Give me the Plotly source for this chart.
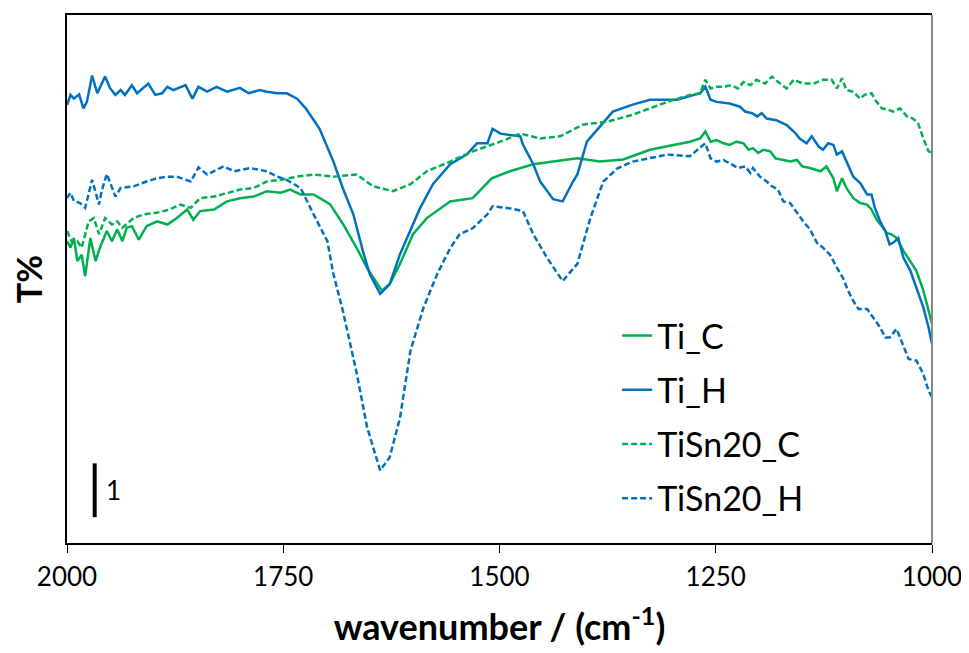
import plotly.graph_objects as go

# ---- data (wavenumber in cm^-1, transmittance in arbitrary offset units) ----
ti_h_wn = [2000, 1996, 1992, 1986, 1981, 1977, 1971, 1965, 1956, 1950, 1944, 1938, 1933, 1925, 1919, 1906,
           1898, 1890, 1884, 1877, 1863, 1855, 1848, 1838, 1827, 1815, 1800, 1790, 1777, 1769, 1757, 1746,
           1734, 1724, 1711, 1708, 1692, 1681, 1669, 1658, 1650, 1638, 1627, 1615, 1592, 1577, 1557, 1538,
           1526, 1514, 1508, 1499, 1476, 1473, 1461, 1453, 1438, 1427, 1415, 1410, 1399, 1384, 1369, 1346,
           1326, 1295, 1280, 1268, 1262, 1256, 1249, 1234, 1222, 1216, 1208, 1202, 1197, 1191, 1180, 1168,
           1164, 1158, 1153, 1145, 1139, 1131, 1126, 1120, 1114, 1110, 1104, 1099, 1091, 1083, 1075, 1070,
           1066, 1060, 1054, 1049, 1045, 1039, 1033, 1025, 1018, 1010, 1004, 1000]
ti_h_t = [8.14, 8.33, 8.26, 8.34, 8.08, 8.20, 8.69, 8.36, 8.67, 8.45, 8.33, 8.42, 8.33, 8.51, 8.36, 8.54,
          8.33, 8.36, 8.48, 8.42, 8.51, 8.26, 8.48, 8.39, 8.48, 8.39, 8.46, 8.36, 8.42, 8.39, 8.36, 8.36,
          8.26, 8.08, 7.77, 7.70, 7.09, 6.59, 6.11, 5.43, 5.00, 4.63, 4.81, 5.37, 6.22, 6.67, 7.04, 7.22,
          7.43, 7.43, 7.70, 7.61, 7.56, 7.41, 7.04, 6.72, 6.39, 6.35, 6.72, 6.85, 7.46, 7.74, 8.02, 8.15,
          8.24, 8.24, 8.30, 8.36, 8.48, 8.24, 8.20, 8.17, 8.11, 8.02, 7.99, 7.93, 7.99, 7.89, 7.86, 7.77,
          7.71, 7.62, 7.52, 7.43, 7.56, 7.37, 7.31, 7.43, 7.40, 7.22, 7.28, 7.09, 6.81, 6.69, 6.48, 6.48,
          6.23, 5.98, 5.80, 5.55, 5.58, 5.67, 5.30, 5.06, 4.75, 4.38, 4.01, 3.70]

ti_c_wn = [2000, 1996, 1992, 1988, 1983, 1979, 1973, 1967, 1962, 1954, 1948, 1942, 1936, 1931, 1925, 1917,
           1908, 1896, 1884, 1873, 1861, 1854, 1846, 1830, 1815, 1800, 1784, 1769, 1753, 1742, 1730, 1715,
           1696, 1681, 1665, 1653, 1636, 1627, 1615, 1600, 1584, 1557, 1531, 1509, 1488, 1461, 1438, 1410,
           1384, 1357, 1326, 1288, 1280, 1268, 1262, 1256, 1249, 1241, 1234, 1226, 1218, 1212, 1207, 1201,
           1195, 1187, 1181, 1172, 1164, 1156, 1150, 1141, 1129, 1122, 1114, 1110, 1104, 1099, 1091, 1083,
           1075, 1070, 1064, 1058, 1052, 1047, 1041, 1033, 1025, 1018, 1010, 1005, 1000]
ti_c_t = [5.61, 5.49, 5.67, 5.24, 5.36, 4.96, 5.67, 5.24, 5.49, 5.80, 5.61, 5.83, 5.61, 5.86, 5.89, 5.64,
          5.89, 5.98, 5.92, 6.04, 6.20, 6.01, 6.17, 6.20, 6.35, 6.41, 6.44, 6.54, 6.51, 6.57, 6.48, 6.48,
          6.30, 5.93, 5.48, 5.11, 4.69, 4.81, 5.19, 5.74, 6.04, 6.35, 6.41, 6.78, 6.91, 7.04, 7.09, 7.15,
          7.09, 7.13, 7.31, 7.43, 7.46, 7.52, 7.65, 7.46, 7.49, 7.43, 7.40, 7.46, 7.43, 7.31, 7.34, 7.25,
          7.31, 7.28, 7.15, 7.12, 7.09, 7.12, 7.00, 6.97, 6.91, 7.00, 6.78, 6.54, 6.78, 6.60, 6.41, 6.32,
          6.29, 6.20, 6.01, 5.89, 5.76, 5.74, 5.67, 5.43, 5.24, 5.06, 4.69, 4.38, 4.07]

tisn_c_wn = [2000, 1994, 1988, 1983, 1975, 1969, 1963, 1956, 1948, 1942, 1936, 1923, 1911, 1896, 1881, 1869,
             1857, 1846, 1830, 1815, 1800, 1784, 1769, 1753, 1734, 1715, 1692, 1665, 1646, 1623, 1603, 1584,
             1557, 1531, 1499, 1476, 1453, 1430, 1403, 1376, 1346, 1306, 1280, 1268, 1262, 1256, 1249, 1241,
             1232, 1224, 1218, 1210, 1203, 1193, 1185, 1178, 1168, 1160, 1149, 1137, 1126, 1116, 1110, 1104,
             1099, 1091, 1083, 1078, 1070, 1064, 1058, 1050, 1045, 1037, 1029, 1022, 1016, 1010, 1004, 1000]
tisn_c_t = [5.80, 5.58, 5.61, 5.49, 5.98, 6.04, 5.74, 6.04, 5.92, 5.98, 5.86, 6.04, 6.11, 6.14, 6.20, 6.29,
            6.23, 6.41, 6.44, 6.51, 6.57, 6.60, 6.72, 6.75, 6.81, 6.85, 6.81, 6.85, 6.63, 6.54, 6.67, 6.91,
            7.09, 7.28, 7.46, 7.61, 7.52, 7.56, 7.78, 7.83, 7.96, 8.20, 8.33, 8.36, 8.61, 8.45, 8.48, 8.48,
            8.51, 8.45, 8.57, 8.51, 8.61, 8.54, 8.67, 8.57, 8.45, 8.61, 8.54, 8.54, 8.61, 8.61, 8.45, 8.64,
            8.42, 8.39, 8.26, 8.33, 8.36, 8.20, 8.08, 8.05, 8.02, 8.08, 7.93, 7.89, 7.80, 7.52, 7.28, 7.25]

tisn_h_wn = [2000, 1996, 1992, 1985, 1979, 1971, 1963, 1960, 1954, 1944, 1938, 1923, 1908, 1896, 1884, 1873,
             1857, 1848, 1838, 1819, 1807, 1788, 1769, 1757, 1746, 1730, 1715, 1699, 1692, 1681, 1665, 1653,
             1638, 1627, 1615, 1603, 1588, 1572, 1557, 1546, 1531, 1514, 1508, 1488, 1473, 1461, 1445, 1427,
             1410, 1395, 1380, 1364, 1346, 1306, 1280, 1268, 1262, 1256, 1249, 1241, 1230, 1224, 1216, 1210,
             1207, 1199, 1191, 1185, 1178, 1172, 1164, 1156, 1149, 1141, 1133, 1126, 1118, 1110, 1103, 1097,
             1091, 1085, 1075, 1068, 1060, 1054, 1049, 1041, 1033, 1027, 1018, 1010, 1004, 1000]
tisn_h_t = [6.41, 6.51, 6.36, 6.32, 6.23, 6.75, 6.29, 6.54, 6.86, 6.44, 6.60, 6.63, 6.72, 6.78, 6.81, 6.81,
            6.72, 6.98, 6.85, 7.00, 6.91, 6.97, 6.91, 6.81, 6.75, 6.60, 6.11, 5.61, 5.00, 4.31, 3.15, 2.15,
            1.35, 1.59, 2.33, 3.57, 4.37, 5.00, 5.48, 5.74, 5.85, 6.11, 6.26, 6.22, 6.17, 5.74, 5.30, 4.87,
            5.19, 6.04, 6.72, 6.96, 7.09, 7.22, 7.19, 7.34, 7.43, 7.15, 7.09, 7.12, 7.03, 6.97, 7.00, 6.88,
            6.97, 6.81, 6.72, 6.63, 6.57, 6.35, 6.32, 6.14, 5.98, 5.83, 5.58, 5.49, 5.36, 5.12, 4.93, 4.69,
            4.50, 4.35, 4.35, 4.19, 4.01, 3.82, 3.82, 3.98, 3.64, 3.42, 3.39, 3.14, 2.83, 2.71]

x_ticks = [2000, 1750, 1500, 1250, 1000]
scale_bar_wn = 1968
scale_bar_t = [0.48, 1.48]

GREEN = "#00B050"
BLUE = "#0070C0"
FONT = "Lato, 'Open Sans', sans-serif"

fig = go.Figure()
series = [
    ("Ti_C", ti_c_wn, ti_c_t, GREEN, "solid"),
    ("Ti_H", ti_h_wn, ti_h_t, BLUE, "solid"),
    ("TiSn20_C", tisn_c_wn, tisn_c_t, GREEN, "6px,3px"),
    ("TiSn20_H", tisn_h_wn, tisn_h_t, BLUE, "6px,3px"),
]
for name, x, y, c, d in series:
    fig.add_trace(go.Scatter(x=x, y=y, mode="lines", name=name, legendgroup=name,
                             line=dict(color=c, width=2.5, dash=d)))

# scale bar
fig.add_trace(go.Scatter(x=[scale_bar_wn, scale_bar_wn], y=scale_bar_t, mode="lines",
                         line=dict(color="black", width=4), showlegend=False, hoverinfo="skip"))
fig.add_annotation(x=scale_bar_wn, y=sum(scale_bar_t) / 2, text="1", showarrow=False,
                   xanchor="left", xshift=9, font=dict(size=26, color="black", family=FONT))

# right border (grey)
fig.add_shape(type="line", xref="paper", yref="paper", x0=1, x1=1, y0=0, y1=1,
              line=dict(color="#888888", width=2))

fig.update_layout(
    width=961, height=645,
    margin=dict(l=59, r=37, t=5, b=110),
    paper_bgcolor="white", plot_bgcolor="white",
    font=dict(family=FONT, color="black"),
    showlegend=True,
    legend=dict(x=0.636, y=0.447, xanchor="left", yanchor="top", bgcolor="rgba(0,0,0,0)",
                font=dict(size=34, family=FONT), tracegroupgap=7, itemwidth=30),
    xaxis=dict(range=[2000, 1000], tickvals=x_ticks, ticktext=[str(v) for v in x_ticks],
               showgrid=False, zeroline=False, showline=True, linecolor="black", linewidth=1.5,
               mirror=True, ticks="outside", ticklen=8, tickcolor="black",
               tickfont=dict(size=26, family=FONT), ticklabelstandoff=2,
               title=dict(text="<b>wavenumber / (cm<sup>-1</sup>)</b>", font=dict(size=36, family=FONT),
                          standoff=24)),
    yaxis=dict(range=[0, 9.815], showticklabels=False, showgrid=False, zeroline=False,
               showline=True, linecolor="black", linewidth=1.5, ticks="",
               title=dict(text="<b>T%</b>", font=dict(size=34, family=FONT), standoff=12)),
)

fig.write_html("out.html")
